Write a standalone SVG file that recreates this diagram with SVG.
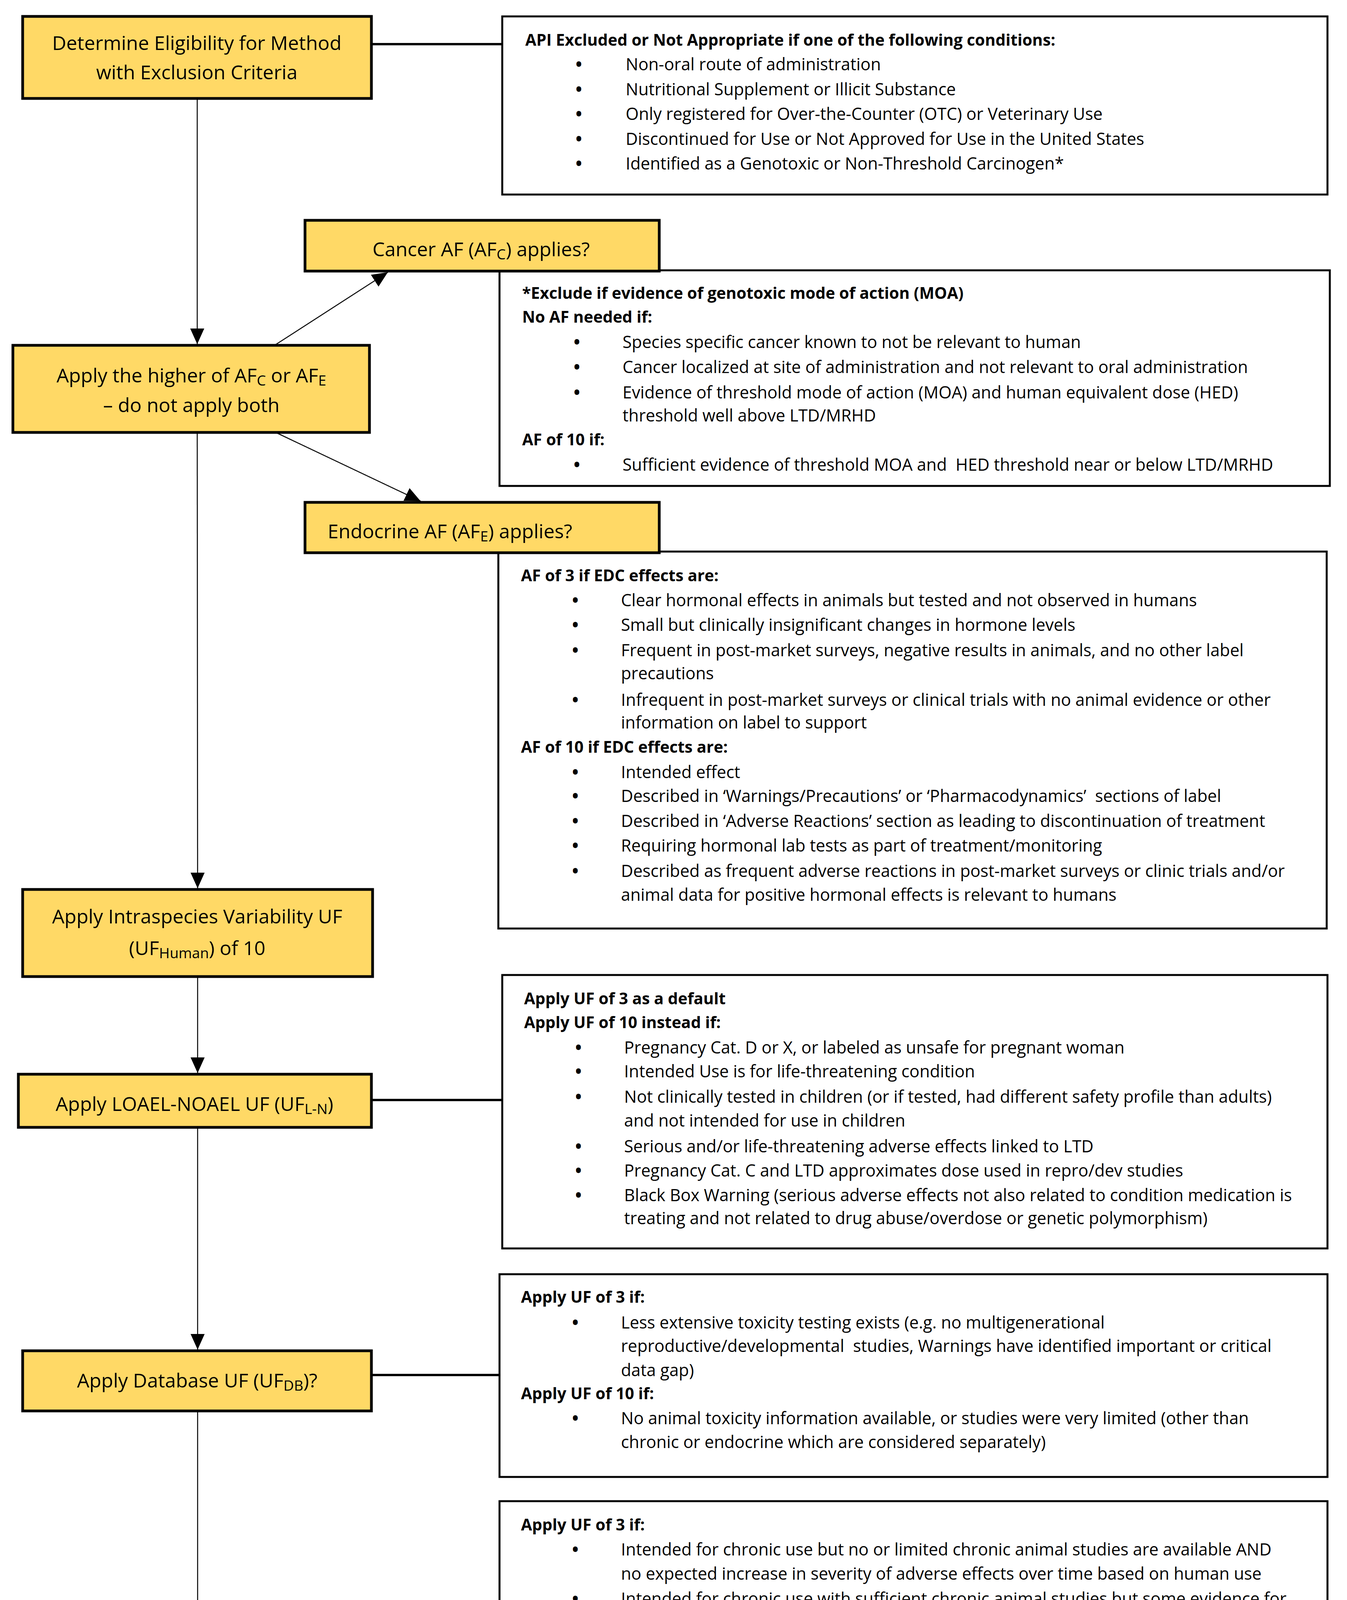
<svg xmlns="http://www.w3.org/2000/svg" width="3449" height="5305" viewBox="0 0 3449 5305">
<defs>
<marker id="ah" markerUnits="userSpaceOnUse" markerWidth="40" markerHeight="40" viewBox="0 0 40 40" refX="40" refY="20" orient="auto">
<path d="M0,2 L40,20 L0,38 Z" fill="#000"/>
</marker>
<style>
.t{font-family:'Open Sans','Liberation Sans',sans-serif;font-size:43px;fill:#000}
.b{font-weight:bold;font-size:41px}
.n{font-family:'Open Sans','Liberation Sans',sans-serif;font-size:50px;fill:#000}
.m{text-anchor:middle}
.bl{font-size:44px;font-weight:bold}
.node{fill:#FFD966;stroke:#000;stroke-width:7}
.info{fill:#fff;stroke:#000;stroke-width:5}
.thin{stroke:#000;stroke-width:2.5;fill:none}
.thick{stroke:#000;stroke-width:6;fill:none}
</style>
</defs>
<rect width="3449" height="5305" fill="#fff"/>

<g id="connectors">
<line class="thick" x1="951" y1="113" x2="1286" y2="113"/>
<line class="thick" x1="951" y1="2816" x2="1286" y2="2816"/>
<line class="thick" x1="951" y1="3520" x2="1279" y2="3520"/>
<line class="thick" x1="951" y1="4292" x2="1279" y2="4292"/>
<line class="thick" x1="957" y1="5001" x2="1286" y2="5001"/>
<line class="thin" x1="505" y1="252" x2="505" y2="881" marker-end="url(#ah)"/>
<line class="thin" x1="505" y1="1107" x2="506" y2="2274" marker-end="url(#ah)"/>
<line class="thin" x1="506" y1="2500" x2="506" y2="2747" marker-end="url(#ah)"/>
<line class="thin" x1="506" y1="2886" x2="506" y2="3455" marker-end="url(#ah)"/>
<line class="thin" x1="506" y1="3612" x2="506" y2="4220" marker-end="url(#ah)"/>
<line class="thin" x1="506" y1="4354" x2="506" y2="4939" marker-end="url(#ah)"/>
<line class="thin" x1="703" y1="884" x2="993" y2="697" marker-end="url(#ah)"/>
<line class="thin" x1="706" y1="1107" x2="1077" y2="1283" marker-end="url(#ah)"/>
</g>

<g id="info1">
<rect class="info" x="1286" y="42" width="2113" height="456"/>
<text class="t b" x="1345" y="117">API Excluded or Not Appropriate if one of the following conditions:</text>
<text x="1482" y="180" class="t m bl">•</text><text x="1602" y="180" class="t">Non-oral route of administration</text>
<text x="1482" y="244" class="t m bl">•</text><text x="1602" y="244" class="t">Nutritional Supplement or Illicit Substance</text>
<text x="1482" y="307" class="t m bl">•</text><text x="1602" y="307" class="t">Only registered for Over-the-Counter (OTC) or Veterinary Use</text>
<text x="1482" y="371" class="t m bl">•</text><text x="1602" y="371" class="t">Discontinued for Use or Not Approved for Use in the United States</text>
<text x="1482" y="434" class="t m bl">•</text><text x="1602" y="434" class="t">Identified as a Genotoxic or Non-Threshold Carcinogen*</text>
</g>

<g id="info2">
<rect class="info" x="1279" y="692" width="2126" height="552"/>
<text class="t b" x="1337" y="765">*Exclude if evidence of genotoxic mode of action (MOA)</text>
<text class="t b" x="1337" y="826">No AF needed if:</text>
<text x="1477" y="891" class="t m bl">•</text><text x="1594" y="891" class="t">Species specific cancer known to not be relevant to human</text>
<text x="1477" y="955" class="t m bl">•</text><text x="1594" y="955" class="t">Cancer localized at site of administration and not relevant to oral administration</text>
<text x="1477" y="1020" class="t m bl">•</text><text x="1594" y="1020" class="t">Evidence of threshold mode of action (MOA) and human equivalent dose (HED)</text>
<text x="1594" y="1079" class="t">threshold well above LTD/MRHD</text>
<text class="t b" x="1337" y="1140">AF of 10 if:</text>
<text x="1477" y="1205" class="t m bl">•</text><text x="1594" y="1205" class="t" xml:space="preserve">Sufficient evidence of threshold MOA and  HED threshold near or below LTD/MRHD</text>
</g>

<g id="info3">
<rect class="info" x="1276" y="1412" width="2121" height="965"/>
<text class="t b" x="1334" y="1488">AF of 3 if EDC effects are:</text>
<text x="1473" y="1552" class="t m bl">•</text><text x="1590" y="1552" class="t">Clear hormonal effects in animals but tested and not observed in humans</text>
<text x="1473" y="1615" class="t m bl">•</text><text x="1590" y="1615" class="t">Small but clinically insignificant changes in hormone levels</text>
<text x="1473" y="1680" class="t m bl">•</text><text x="1590" y="1680" class="t">Frequent in post-market surveys, negative results in animals, and no other label</text>
<text x="1590" y="1739" class="t">precautions</text>
<text x="1473" y="1807" class="t m bl">•</text><text x="1590" y="1807" class="t">Infrequent in post-market surveys or clinical trials with no animal evidence or other</text>
<text x="1590" y="1865" class="t">information on label to support</text>
<text class="t b" x="1334" y="1927">AF of 10 if EDC effects are:</text>
<text x="1473" y="1992" class="t m bl">•</text><text x="1590" y="1992" class="t">Intended effect</text>
<text x="1473" y="2053" class="t m bl">•</text><text x="1590" y="2053" class="t" xml:space="preserve">Described in ‘Warnings/Precautions’ or ‘Pharmacodynamics’  sections of label</text>
<text x="1473" y="2117" class="t m bl">•</text><text x="1590" y="2117" class="t">Described in ‘Adverse Reactions’ section as leading to discontinuation of treatment</text>
<text x="1473" y="2180" class="t m bl">•</text><text x="1590" y="2180" class="t">Requiring hormonal lab tests as part of treatment/monitoring</text>
<text x="1473" y="2245" class="t m bl">•</text><text x="1590" y="2245" class="t">Described as frequent adverse reactions in post-market surveys or clinic trials and/or</text>
<text x="1590" y="2306" class="t">animal data for positive hormonal effects is relevant to humans</text>
</g>

<g id="info4">
<rect class="info" x="1286" y="2496" width="2113" height="700"/>
<text class="t b" x="1342" y="2571">Apply UF of 3 as a default</text>
<text class="t b" x="1342" y="2632">Apply UF of 10 instead if:</text>
<text x="1481" y="2697" class="t m bl">•</text><text x="1598" y="2697" class="t">Pregnancy Cat. D or X, or labeled as unsafe for pregnant woman</text>
<text x="1481" y="2758" class="t m bl">•</text><text x="1598" y="2758" class="t">Intended Use is for life-threatening condition</text>
<text x="1481" y="2823" class="t m bl">•</text><text x="1598" y="2823" class="t">Not clinically tested in children (or if tested, had different safety profile than adults)</text>
<text x="1598" y="2884" class="t">and not intended for use in children</text>
<text x="1481" y="2950" class="t m bl">•</text><text x="1598" y="2950" class="t">Serious and/or life-threatening adverse effects linked to LTD</text>
<text x="1481" y="3012" class="t m bl">•</text><text x="1598" y="3012" class="t">Pregnancy Cat. C and LTD approximates dose used in repro/dev studies</text>
<text x="1481" y="3075" class="t m bl">•</text><text x="1598" y="3075" class="t">Black Box Warning (serious adverse effects not also related to condition medication is</text>
<text x="1598" y="3134" class="t">treating and not related to drug abuse/overdose or genetic polymorphism)</text>
</g>

<g id="info5">
<rect class="info" x="1279" y="3262" width="2120" height="519"/>
<text class="t b" x="1334" y="3335">Apply UF of 3 if:</text>
<text x="1473" y="3401" class="t m bl">•</text><text x="1590" y="3401" class="t">Less extensive toxicity testing exists (e.g. no multigenerational</text>
<text x="1590" y="3461" class="t" xml:space="preserve">reproductive/developmental  studies, Warnings have identified important or critical</text>
<text x="1590" y="3523" class="t">data gap)</text>
<text class="t b" x="1334" y="3582">Apply UF of 10 if:</text>
<text x="1473" y="3646" class="t m bl">•</text><text x="1590" y="3646" class="t">No animal toxicity information available, or studies were very limited (other than</text>
<text x="1590" y="3707" class="t">chronic or endocrine which are considered separately)</text>
</g>

<g id="info6">
<rect class="info" x="1279" y="3843" width="2120" height="975"/>
<text class="t b" x="1334" y="3918">Apply UF of 3 if:</text>
<text x="1473" y="3982" class="t m bl">•</text><text x="1590" y="3982" class="t">Intended for chronic use but no or limited chronic animal studies are available AND</text>
<text x="1590" y="4044" class="t">no expected increase in severity of adverse effects over time based on human use</text>
<text x="1473" y="4108" class="t m bl">•</text><text x="1590" y="4108" class="t">Intended for chronic use with sufficient chronic animal studies but some evidence for</text>
<text x="1590" y="4175" class="t">increased or new adverse effects in humans associated with longer durations.</text>
<text x="1473" y="4242" class="t m bl">•</text><text x="1590" y="4242" class="t">Relatively new and intended for chronic use with sufficient chronic animal studies but</text>
<text x="1590" y="4307" class="t">uncertainty about duration-related effects due to relatively short history of human</text>
<text x="1590" y="4374" class="t">use experience (approx. ≤10 <tspan font-style="italic">yr)</tspan></text>
<text class="t b" x="1334" y="4439">Apply UF of 10 if:</text>
<text x="1473" y="4507" class="t m bl">•</text><text x="1590" y="4507" class="t">Intended for short-term use only</text>
<text x="1473" y="4572" class="t m bl">•</text><text x="1590" y="4572" class="t" xml:space="preserve">Intended  for subchronic use (not intended to treat chronic or lifetime conditions) and</text>
<text x="1590" y="4634" class="t">has no or limited chronic animal studies</text>
<text x="1473" y="4698" class="t m bl">•</text><text x="1590" y="4698" class="t" xml:space="preserve">Intended for chronic/lifetime  use AND there is some evidence for increased severity</text>
<text x="1590" y="4760" class="t">of adverse effects with longer duration use, and no/limited chronic animal studies</text>
</g>

<g id="info7">
<rect class="info" x="1286" y="4873" width="2119" height="405"/>
<text class="t b" x="1342" y="4948">Product of all Four UFs (Human, L-N, DB, and S-C) and the higher of the AFs (C or E)</text>
<text class="t b" x="1342" y="5009">Minimum overall UF/AF = 30</text>
<text x="1481" y="5075" class="t m bl">•</text><text x="1598" y="5075" class="t" xml:space="preserve">Default application of an Intraspecies UF of 10 and at minimum  a LOAEL UF of 3</text>
<text class="t b" x="1342" y="5136">Maximum overall UF/AF = 100,000</text>
<text x="1481" y="5201" class="t m bl">•</text><text x="1598" y="5201" class="t">A product of a total of 10,000 for the product of all four UFs and 10 for one of the AFs</text>
</g>

<g id="n-eligibility">
<rect class="node" x="58" y="42" width="893" height="210"/>
<text class="n m" x="504" y="128">Determine Eligibility for Method</text>
<text class="n m" x="504" y="203">with Exclusion Criteria</text>
</g>

<g id="n-cancer">
<rect class="node" x="781" y="564" width="907" height="130"/>
<text class="n m" x="1232" y="656">Cancer AF (AF<tspan font-size="37" dy="8">C</tspan><tspan dy="-8">) applies?</tspan></text>
</g>

<g id="n-higher">
<rect class="node" x="33" y="884" width="913" height="223"/>
<text class="n m" x="490" y="979">Apply the higher of AF<tspan font-size="37" dy="8">C</tspan><tspan dy="-8"> or AF</tspan><tspan font-size="37" dy="8">E</tspan></text>
<text class="n m" x="490" y="1055">– do not apply both</text>
</g>

<g id="n-endocrine">
<rect class="node" x="781" y="1286" width="907" height="129"/>
<text class="n" x="839" y="1378">Endocrine AF (AF<tspan font-size="37" dy="8">E</tspan><tspan dy="-8">) applies?</tspan></text>
</g>

<g id="n-intraspecies">
<rect class="node" x="58" y="2277" width="896" height="223"/>
<text class="n m" x="505" y="2364">Apply Intraspecies Variability UF</text>
<text class="n m" x="505" y="2445">(UF<tspan font-size="37" dy="8">Human</tspan><tspan dy="-8">) of 10</tspan></text>
</g>

<g id="n-loael">
<rect class="node" x="47" y="2750" width="904" height="136"/>
<text class="n m" x="498" y="2844">Apply LOAEL-NOAEL UF (UF<tspan font-size="37" dy="8">L-N</tspan><tspan dy="-8">)</tspan></text>
</g>

<g id="n-database">
<rect class="node" x="58" y="3458" width="893" height="154"/>
<text class="n m" x="505" y="3552">Apply Database UF (UF<tspan font-size="37" dy="8">DB</tspan><tspan dy="-8">)?</tspan></text>
</g>

<g id="n-duration">
<rect class="node" x="58" y="4223" width="893" height="131"/>
<text class="n m" x="503" y="4315">Apply Duration UF (UF<tspan font-size="37" dy="8">S-C</tspan><tspan dy="-8">)?</tspan></text>
</g>

<g id="n-total">
<rect class="node" x="58" y="4942" width="899" height="149"/>
<text class="n m" x="508" y="5031">Calculate Total UF/AF</text>
</g>
</svg>
